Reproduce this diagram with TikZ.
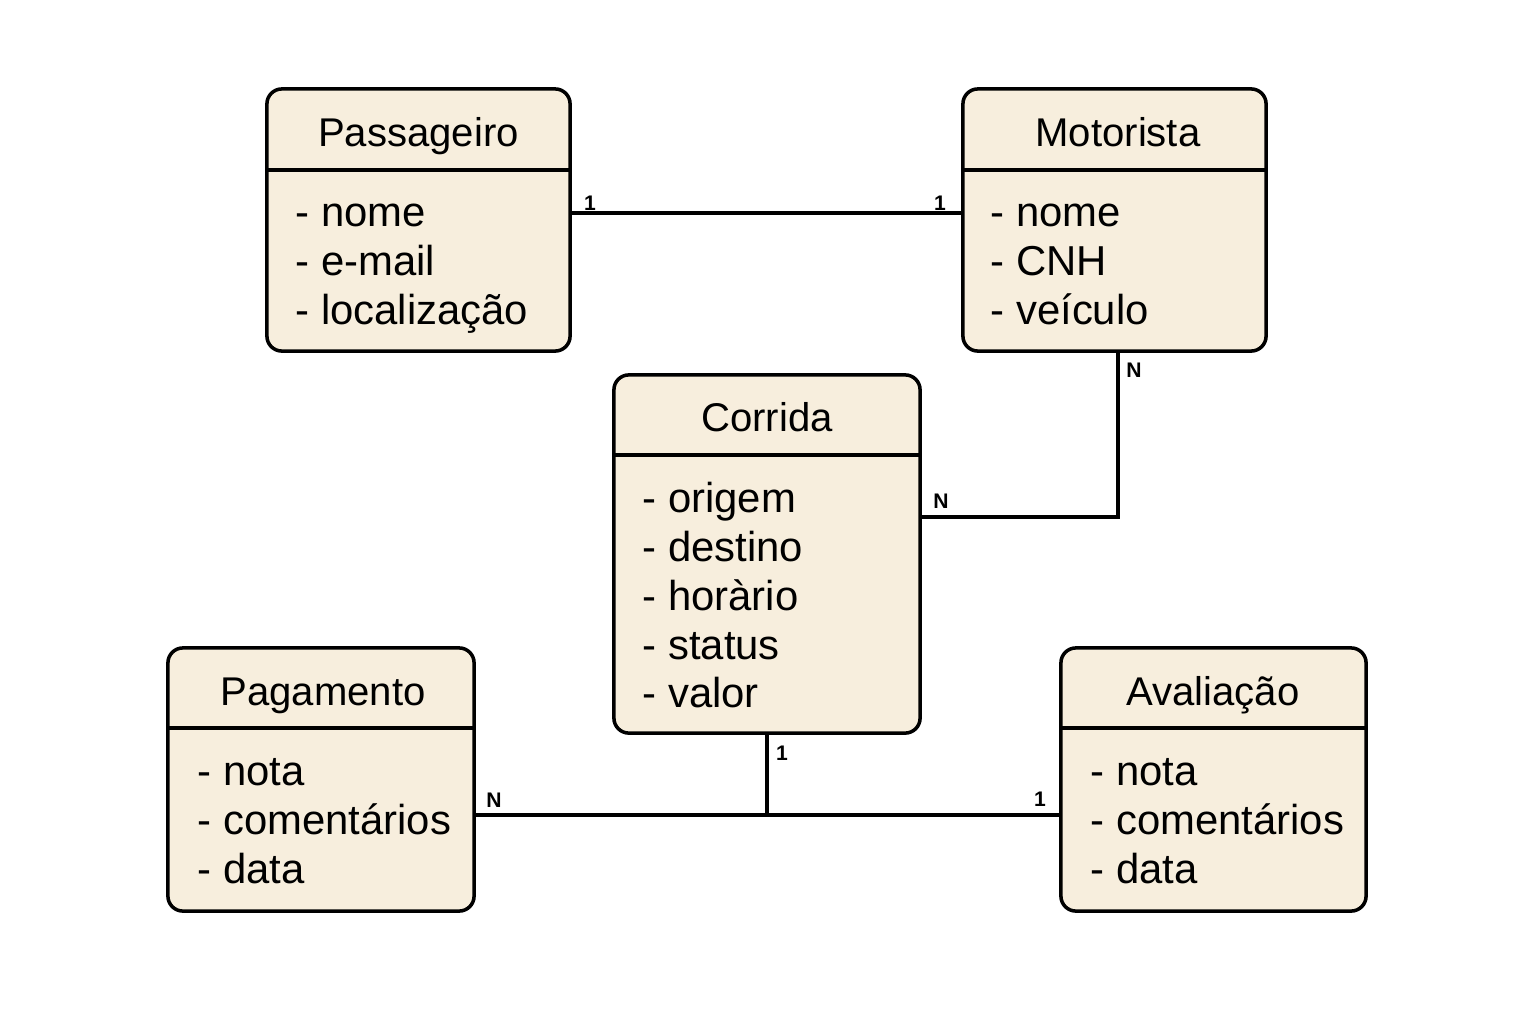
\documentclass[tikz,border=0pt]{standalone}
\usepackage{fontspec}
\setmainfont{Liberation Sans}
\usepackage{xcolor}
\definecolor{entityfill}{HTML}{F7EEDD}

\begin{document}
\begin{tikzpicture}[x=0.01cm, y=-0.01cm,
    entity/.style={rectangle, draw, rounded corners=0.15cm, fill=entityfill, line width=1pt, inner sep=0pt},
    entitytitle/.style={anchor=base, font=\fontsize{11.4}{14}\selectfont, inner sep=0pt},
    attr/.style={anchor=base west, font=\fontsize{11.9}{14}\selectfont, inner sep=0pt},
    headline/.style={line width=1pt},
    link/.style={line width=0.95pt},
    card/.style={anchor=base, font=\fontsize{6}{7}\selectfont\bfseries, inner sep=0pt}
]
    \useasboundingbox (0,0) rectangle (1536,1024);

    % entities
    \node[entity, minimum width=3.03cm, minimum height=2.62cm] (pass) at (418.5,220) {};
    \node[entity, minimum width=3.03cm, minimum height=2.62cm] (mot) at (1114.5,220) {};
    \node[entity, minimum width=3.06cm, minimum height=3.58cm] (cor) at (767,554) {};
    \node[entity, minimum width=3.06cm, minimum height=2.63cm] (pag) at (321,779.5) {};
    \node[entity, minimum width=3.05cm, minimum height=2.63cm] (ava) at (1213.5,779.5) {};

    \draw[headline] (pass.west |- 0,170) -- (pass.east |- 0,170);
    \draw[headline] (mot.west |- 0,170) -- (mot.east |- 0,170);
    \draw[headline] (cor.west |- 0,455) -- (cor.east |- 0,455);
    \draw[headline] (pag.west |- 0,728) -- (pag.east |- 0,728);
    \draw[headline] (ava.west |- 0,728) -- (ava.east |- 0,728);

    % titles
    \node[entitytitle] (pass-t) at (418.5,146) {Passageiro};
    \node[entitytitle] (mot-t) at (1118,146) {Motorista};
    \node[entitytitle] (cor-t) at (767,431) {Corrida};
    \node[entitytitle] (pag-t) at (323,705) {Pagamento};
    \node[entitytitle] (ava-t) at (1213,705) {Avaliação};

    % attributes
    \node[attr] (pass-a1) at (295,226) {- nome};
    \node[attr] (pass-a2) at (295,275) {- e-mail};
    \node[attr] (pass-a3) at (295,324) {- localização};

    \node[attr] (mot-a1) at (990,226) {- nome};
    \node[attr] (mot-a2) at (990,275) {- CNH};
    \node[attr] (mot-a3) at (990,324) {- veículo};

    \node[attr] (cor-a1) at (642,512) {- origem};
    \node[attr] (cor-a2) at (642,561) {- destino};
    \node[attr] (cor-a3) at (642,610) {- horàrio};
    \node[attr] (cor-a4) at (642,659) {- status};
    \node[attr] (cor-a5) at (642,707) {- valor};

    \node[attr] (pag-a1) at (197,785) {- nota};
    \node[attr] (pag-a2) at (197,834) {- comentários};
    \node[attr] (pag-a3) at (197,883) {- data};

    \node[attr] (ava-a1) at (1090,785) {- nota};
    \node[attr] (ava-a2) at (1090,834) {- comentários};
    \node[attr] (ava-a3) at (1090,883) {- data};

    % relationships
    \draw[link] (pass.east |- 0,213) -- (mot.west |- 0,213);
    \draw[link] ([xshift=0.035cm]mot.south) |- (cor.east |- 0,517);
    \draw[link] (pag.east |- 0,815) -- (ava.west |- 0,815);
    \draw[link] (cor.south) -- (cor.south |- 0,815);

    \node[card] (c-pass) at (590,210) {1};
    \node[card] (c-mot) at (940,210) {1};
    \node[card] (c-mot2) at (1134,377) {N};
    \node[card] (c-cor) at (941,508) {N};
    \node[card] (c-cor2) at (782,760) {1};
    \node[card] (c-pag) at (494,807) {N};
    \node[card] (c-ava) at (1040,806) {1};
\end{tikzpicture}
\end{document}
